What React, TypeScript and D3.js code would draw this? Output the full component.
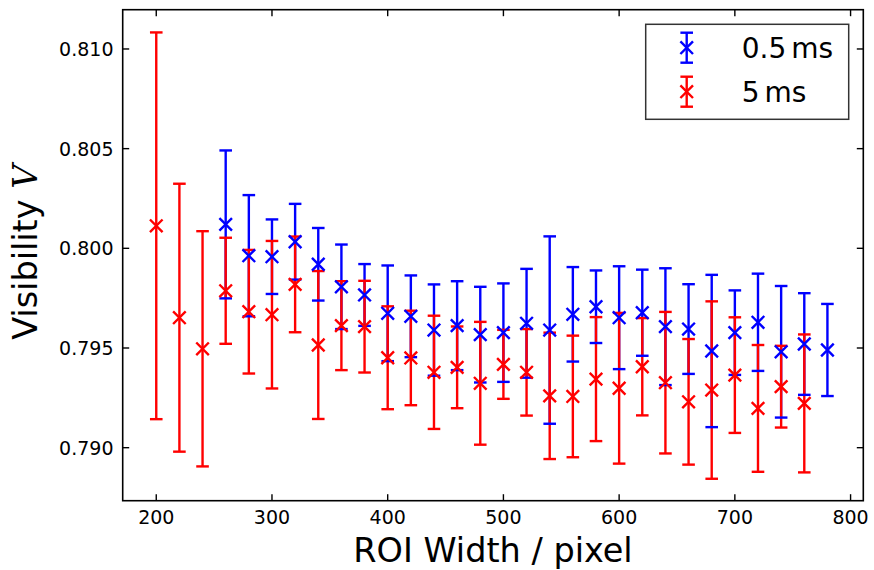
import React from "react";
import * as d3 from "d3";

const blueX = [260, 280, 300, 320, 340, 360, 380, 400, 420, 440, 460, 480, 500, 520, 540, 560, 580, 600, 620, 640, 660, 680, 700, 720, 740, 760, 780];
const blueV = [0.8012, 0.79963, 0.79958, 0.80033, 0.7992, 0.79807, 0.79766, 0.79674, 0.79659, 0.7959, 0.79612, 0.79567, 0.79577, 0.79624, 0.7959, 0.79669, 0.79707, 0.79652, 0.79677, 0.79607, 0.79595, 0.79485, 0.79577, 0.79629, 0.79481, 0.7952, 0.7949];
const blueE = [0.00371, 0.00304, 0.00187, 0.0019, 0.00182, 0.00212, 0.00155, 0.0024, 0.00205, 0.00229, 0.00223, 0.0024, 0.00247, 0.00273, 0.0047, 0.00237, 0.00182, 0.00258, 0.00216, 0.00293, 0.00225, 0.00382, 0.00212, 0.00244, 0.0033, 0.00255, 0.00231];

const redX = [200, 220, 240, 260, 280, 300, 320, 340, 360, 380, 400, 420, 440, 460, 480, 500, 520, 540, 560, 580, 600, 620, 640, 660, 680, 700, 720, 740, 760];
const redV = [0.80113, 0.79652, 0.79496, 0.79787, 0.79682, 0.79667, 0.79819, 0.79515, 0.79612, 0.79607, 0.79451, 0.7945, 0.79378, 0.79403, 0.79323, 0.79418, 0.79378, 0.7926, 0.79257, 0.79344, 0.79298, 0.79406, 0.79326, 0.7923, 0.79289, 0.79364, 0.79197, 0.79306, 0.79222];
const redE = [0.0097, 0.00672, 0.0059, 0.00266, 0.0031, 0.0037, 0.0024, 0.00371, 0.00223, 0.0023, 0.00258, 0.00237, 0.00284, 0.00205, 0.00308, 0.00173, 0.00217, 0.00317, 0.00305, 0.00311, 0.00378, 0.00244, 0.00355, 0.00315, 0.00445, 0.0029, 0.00318, 0.00205, 0.00346];

const xTicks = [200, 300, 400, 500, 600, 700, 800];
const yTicks = [0.79, 0.795, 0.8, 0.805, 0.81];
const seriesNames = ["0.5", "5"];
const seriesColors = ["#0000ff", "#ff0000"];

const W = 874, H = 570;
const L = 122.7, R = 863.3, T = 9.7, B = 500.7;
const FONT = "DejaVu Sans, sans-serif";

export default function App() {
  const x = d3.scaleLinear().domain([171, 811]).range([L, R]);
  const y = d3.scaleLinear().domain([0.78734, 0.81197]).range([B, T]);
  const cap = 6.3;
  const mk = 6.3;
  const lw = 2.4;

  const series = [
    { xs: blueX, vs: blueV, es: blueE, color: seriesColors[0] },
    { xs: redX, vs: redV, es: redE, color: seriesColors[1] },
  ];

  const bars = series.map((s, si) => (
    <g key={"b" + si} stroke={s.color} strokeWidth={lw}>
      {s.xs.map((xv, i) => (
        <line key={i} x1={x(xv)} x2={x(xv)} y1={y(s.vs[i] - s.es[i])} y2={y(s.vs[i] + s.es[i])} />
      ))}
    </g>
  ));
  const caps = series.map((s, si) => (
    <g key={"c" + si} stroke={s.color} strokeWidth={lw}>
      {s.xs.map((xv, i) => (
        <g key={i}>
          <line x1={x(xv) - cap} x2={x(xv) + cap} y1={y(s.vs[i] + s.es[i])} y2={y(s.vs[i] + s.es[i])} />
          <line x1={x(xv) - cap} x2={x(xv) + cap} y1={y(s.vs[i] - s.es[i])} y2={y(s.vs[i] - s.es[i])} />
        </g>
      ))}
    </g>
  ));
  const marks = series.map((s, si) => (
    <g key={"m" + si} stroke={s.color} strokeWidth={lw}>
      {s.xs.map((xv, i) => {
        const cx = x(xv), cy = y(s.vs[i]);
        return (
          <path key={i} d={`M${cx - mk},${cy - mk}L${cx + mk},${cy + mk}M${cx - mk},${cy + mk}L${cx + mk},${cy - mk}`} />
        );
      })}
    </g>
  ));

  const tickLen = 6.5;
  const legX = 686.7;
  const legRows = [47.7, 91.7];

  return (
    <svg width={W} height={H} style={{ position: "absolute", left: 0, top: 0, background: "#fff" }} fontFamily={FONT}>
      <rect x={0} y={0} width={W} height={H} fill="#fff" />
      {bars}
      {caps}
      {marks}
      <rect x={L} y={T} width={R - L} height={B - T} fill="none" stroke="#000" strokeWidth={1.6} />
      {xTicks.map((t) => (
        <g key={"xt" + t}>
          <line x1={x(t)} x2={x(t)} y1={B} y2={B - tickLen} stroke="#000" strokeWidth={1.4} />
          <line x1={x(t)} x2={x(t)} y1={T} y2={T + tickLen} stroke="#000" strokeWidth={1.4} />
          <text x={x(t)} y={523.5} fontSize={19} textAnchor="middle" fill="#000">{t}</text>
        </g>
      ))}
      {yTicks.map((t) => (
        <g key={"yt" + t}>
          <line x1={L} x2={L + tickLen} y1={y(t)} y2={y(t)} stroke="#000" strokeWidth={1.4} />
          <line x1={R} x2={R - tickLen} y1={y(t)} y2={y(t)} stroke="#000" strokeWidth={1.4} />
          <text x={113.5} y={y(t) + 7} fontSize={19} textAnchor="end" fill="#000">{d3.format(".3f")(t)}</text>
        </g>
      ))}
      <text x={(L + R) / 2} y={562} fontSize={33.5} textAnchor="middle" fill="#000">ROI Width / pixel</text>
      <text transform={`translate(37,${(T + B) / 2 - 3}) rotate(-90)`} fontSize={33.5} textAnchor="middle" fill="#000">
        Visibility <tspan fontFamily="DejaVu Serif, serif" fontStyle="italic">V</tspan>
      </text>
      <rect x={645.7} y={24.3} width={203} height={95} fill="#fff" stroke="#333" strokeWidth={1.5} />
      {legRows.map((ry, i) => (
        <g key={"lg" + i} stroke={seriesColors[i]} strokeWidth={lw}>
          <line x1={legX} x2={legX} y1={ry - 15} y2={ry + 15} />
          <line x1={legX - cap} x2={legX + cap} y1={ry - 15} y2={ry - 15} />
          <line x1={legX - cap} x2={legX + cap} y1={ry + 15} y2={ry + 15} />
          <path d={`M${legX - mk},${ry - mk}L${legX + mk},${ry + mk}M${legX - mk},${ry + mk}L${legX + mk},${ry - mk}`} />
        </g>
      ))}
      {legRows.map((ry, i) => (
        <text key={"lt" + i} x={741.7} y={ry + 10} fontSize={28} fill="#000">
          {seriesNames[i]}<tspan dx={5}>ms</tspan>
        </text>
      ))}
    </svg>
  );
}
